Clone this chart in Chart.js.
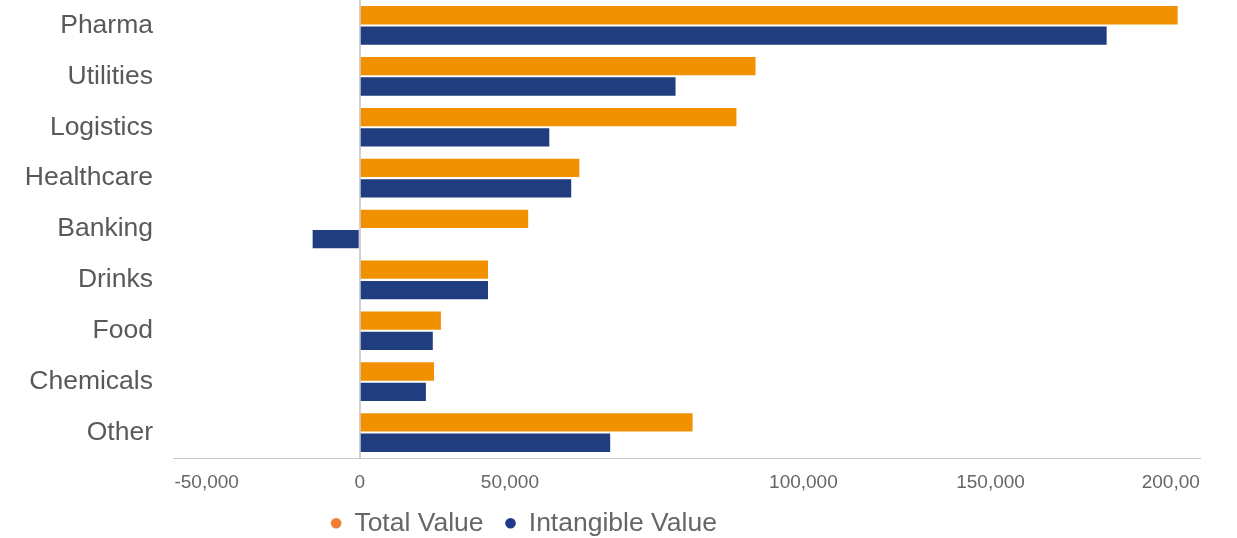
<!DOCTYPE html>
<html>
<head>
<meta charset="utf-8">
<script src="https://cdn.jsdelivr.net/npm/chart.js@4"></script>
<style>
  html, body { margin: 0; padding: 0; background: #fff; }
  #wrap { width: 1237px; height: 538px; }
</style>
</head>
<body>
<div id="wrap"><canvas id="chart"></canvas></div>
<script>
const sectors = ['Pharma', 'Utilities', 'Logistics', 'Healthcare', 'Banking', 'Drinks', 'Food', 'Chemicals', 'Other'];
const totalValue = [201500, 97500, 92800, 54100, 41500, 31600, 20000, 18300, 82000];
const intangibleValue = [184000, 77800, 46700, 52100, -11600, 31600, 18000, 16300, 61700];

// where the axis labels sit, and what they say
const tickValues = [-37700, 0, 37000, 109300, 155400, 199800];
const tickLabels = ['-50,000', '0', '50,000', '100,000', '150,000', '200,00'];

const font = '"Liberation Sans", Arial, Helvetica, sans-serif';
const legendDots = ['#ee7f33', '#1f3a8a'];

// keep the legend strip short, then slide it left of centre
const legendSpot = {
  id: 'legendSpot',
  beforeLayout(chart) {
    const lg = chart.legend;
    if (lg && !lg._shortFit) {
      const fit = lg.fit.bind(lg);
      lg.fit = function () { fit(); this.height = 32; };
      lg._shortFit = true;
    }
  },
  afterLayout(chart) {
    const lg = chart.legend;
    lg.left -= 76;
    lg.right -= 76;
    lg.top -= 18;
    lg.bottom = chart.height;
    lg.height = lg.bottom - lg.top;
  }
};

new Chart(document.getElementById('chart'), {
  type: 'bar',
  data: {
    labels: sectors,
    datasets: [
      { label: 'Total Value', data: totalValue, backgroundColor: '#f29100' },
      { label: 'Intangible Value', data: intangibleValue, backgroundColor: '#1f3d7f' }
    ]
  },
  options: {
    indexAxis: 'y',
    responsive: true,
    maintainAspectRatio: false,
    animation: false,
    layout: { padding: { top: 0, right: 37, bottom: 0, left: 0 } },
    datasets: { bar: { categoryPercentage: 0.8, barPercentage: 0.9 } },
    scales: {
      x: {
        min: -46000,
        max: 207000,
        afterBuildTicks: scale => {
          scale.ticks = tickValues.map(v => ({ value: v }));
        },
        afterFit: scale => { scale.height = 48; },
        grid: {
          drawTicks: false,
          color: ctx => (ctx.tick && ctx.tick.value === 0) ? '#d2d2d2' : 'rgba(0,0,0,0)',
          lineWidth: 2
        },
        border: { display: true, color: '#c8c8c8', width: 1 },
        ticks: {
          padding: 13,
          color: '#666',
          font: { family: font, size: 19 },
          maxRotation: 0,
          autoSkip: false,
          callback: (v, i) => tickLabels[i]
        }
      },
      y: {
        afterFit: scale => {
          scale.width = 173;
          scale.paddingTop = 0;
          scale.paddingBottom = 0;
        },
        grid: { display: false },
        border: { display: false },
        ticks: {
          padding: 12,
          color: '#595959',
          font: { family: font, size: 26.5 }
        }
      }
    },
    plugins: {
      legend: {
        position: 'bottom',
        labels: {
          usePointStyle: true,
          pointStyle: 'circle',
          boxWidth: 10,
          boxHeight: 7.5,
          padding: 22,
          color: '#666',
          font: { family: font, size: 26.5 },
          generateLabels: chart => {
            const items = Chart.defaults.plugins.legend.labels.generateLabels(chart);
            items.forEach((it, i) => {
              it.fillStyle = legendDots[i];
              it.strokeStyle = legendDots[i];
            });
            return items;
          }
        }
      },
      tooltip: { enabled: false }
    }
  },
  plugins: [legendSpot]
});
</script>
</body>
</html>
